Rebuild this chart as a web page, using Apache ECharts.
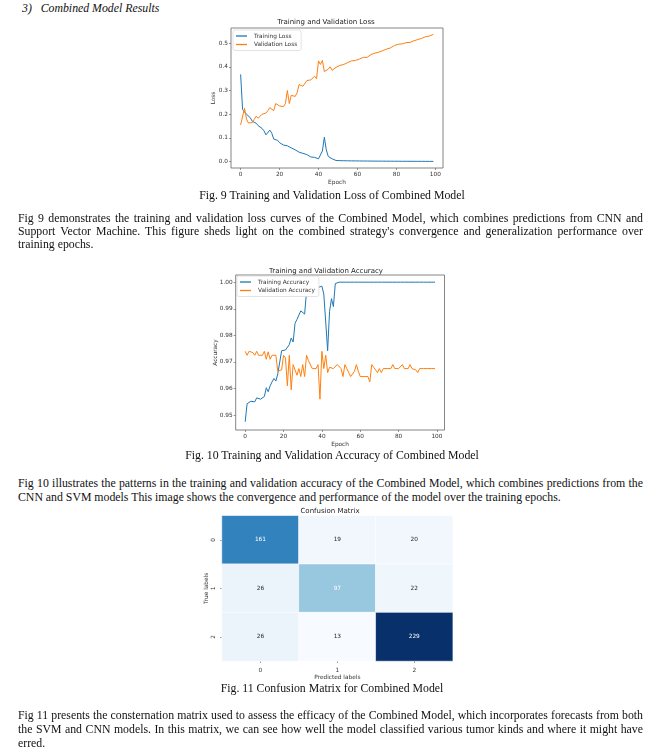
<!DOCTYPE html>
<html>
<head>
<meta charset="utf-8">
<script src="https://cdn.jsdelivr.net/npm/echarts@6/dist/echarts.min.js"></script>
<style>
html,body{margin:0;padding:0;background:#fff;}
body{width:664px;height:756px;position:relative;overflow:hidden;font-family:"Liberation Serif","DejaVu Serif",serif;color:#111;}
.ln{position:absolute;left:18px;width:625px;font-size:11.8px;line-height:13px;height:13px;white-space:normal;overflow:hidden;}
.j{text-align:justify;text-align-last:justify;}
.cap{position:absolute;left:0;width:664px;text-align:center;font-size:11.8px;line-height:13px;}
.chart{position:absolute;}
</style>
</head>
<body>
<div class="ln" style="top:2px;font-style:italic;left:22px;">3)&nbsp;&nbsp;&nbsp;Combined Model Results</div>

<div id="loss" class="chart" style="left:195px;top:15px;width:262px;height:175px;"></div>
<div class="cap" style="top:189px;">Fig. 9 Training and Validation Loss of Combined Model</div>
<div class="ln j" style="top:212px;">Fig 9 demonstrates the training and validation loss curves of the Combined Model, which combines predictions from CNN and</div>
<div class="ln j" style="top:225px;">Support Vector Machine. This figure sheds light on the combined strategy's convergence and generalization performance over</div>
<div class="ln" style="top:238px;">training epochs.</div>

<div id="acc" class="chart" style="left:195px;top:262px;width:262px;height:190px;"></div>
<div class="cap" style="top:449px;">Fig. 10 Training and Validation Accuracy of Combined Model</div>
<div class="ln j" style="top:477px;">Fig 10 illustrates the patterns in the training and validation accuracy of the Combined Model, which combines predictions from the</div>
<div class="ln" style="top:491px;">CNN and SVM models This image shows the convergence and performance of the model over the training epochs.</div>

<div id="cm" class="chart" style="left:195px;top:505px;width:270px;height:180px;"></div>
<div class="cap" style="top:682px;">Fig. 11 Confusion Matrix for Combined Model</div>
<div class="ln j" style="top:709px;">Fig 11 presents the consternation matrix used to assess the efficacy of the Combined Model, which incorporates forecasts from both</div>
<div class="ln j" style="top:723px;">the SVM and CNN models. In this matrix, we can see how well the model classified various tumor kinds and where it might have</div>
<div class="ln" style="top:737px;">erred.</div>

<script>
// ---------- data ----------
var trainLoss = [0.368,0.22,0.215,0.200,0.195,0.185,0.170,0.168,0.162,0.152,
  0.148,0.140,0.130,0.113,0.118,0.133,0.120,0.095,0.092,0.090,
  0.080,0.072,0.070,0.068,0.067,0.065,0.058,0.066,0.050,0.042,
  0.040,0.038,0.035,0.036,0.030,0.025,0.020,0.018,0.018,0.015,
  0.012,0.010,0.045,0.103,0.050,0.022,0.028,0.012,0.007,0.005,
  0.0045,0.0042,0.004,0.0038,0.0036,0.0035,0.0034,0.0033,0.0032,0.0031,
  0.003,0.0029,0.0028,0.0027,0.0026,0.0026,0.0025,0.0024,0.0024,0.0023,
  0.0022,0.0022,0.0021,0.0021,0.002,0.002,0.0019,0.0019,0.0018,0.0018,
  0.0017,0.0017,0.0016,0.0016,0.0016,0.0015,0.0015,0.0015,0.0014,0.0014,
  0.0014,0.0013,0.0013,0.0013,0.0012,0.0012,0.0012,0.0011,0.0011,0.0011];
var valLoss = [0.155,0.158,0.225,0.180,0.163,0.158,0.165,0.178,0.192,0.183,
  0.185,0.200,0.198,0.205,0.215,0.228,0.235,0.215,0.245,0.238,
  0.235,0.240,0.232,0.245,0.300,0.245,0.280,0.285,0.275,0.290,
  0.325,0.320,0.318,0.315,0.342,0.338,0.345,0.348,0.360,0.350,
  0.425,0.410,0.427,0.380,0.383,0.390,0.400,0.385,0.392,0.398,
  0.405,0.406,0.408,0.410,0.412,0.418,0.422,0.425,0.423,0.427,
  0.430,0.433,0.436,0.440,0.443,0.440,0.445,0.452,0.455,0.458,
  0.460,0.462,0.465,0.468,0.466,0.475,0.470,0.480,0.486,0.490,
  0.492,0.495,0.500,0.497,0.490,0.502,0.505,0.503,0.507,0.510,
  0.513,0.515,0.518,0.520,0.525,0.527,0.525,0.530,0.535,0.537];
var trainAcc = [0.9475,0.9543,0.9548,0.9552,0.9553,0.9550,0.9565,0.9558,0.9560,0.9565,
  0.9570,0.9603,0.9588,0.9610,0.9625,0.9638,0.9628,0.9655,0.9660,0.9742,
  0.9745,0.9745,0.9742,0.9765,0.9790,0.9775,0.9845,0.9860,0.9863,0.9892,
  0.9885,0.9880,0.9965,0.9968,0.9970,0.9975,0.9985,0.9972,0.9980,0.9985,
  0.9985,0.9955,0.9850,0.9742,0.9890,0.9938,0.9908,0.9995,1.0,1.0,
  1.0,1.0,1.0,1.0,1.0,1.0,1.0,1.0,1.0,1.0,
  1.0,1.0,1.0,1.0,1.0,1.0,1.0,1.0,1.0,1.0,
  1.0,1.0,1.0,1.0,1.0,1.0,1.0,1.0,1.0,1.0,
  1.0,1.0,1.0,1.0,1.0,1.0,1.0,1.0,1.0,1.0,
  1.0,1.0,1.0,1.0,1.0,1.0,1.0,1.0,1.0,1.0];
var valAcc = [0.9740,0.9725,0.9740,0.9740,0.9735,0.9725,0.9740,0.9725,0.9725,0.9725,
  0.9740,0.9710,0.9738,0.9710,0.9725,0.9725,0.9725,0.9665,0.9660,0.9670,
  0.9725,0.9715,0.9610,0.9725,0.9595,0.9690,0.9670,0.9650,0.9675,0.9645,
  0.9690,0.9645,0.9725,0.9705,0.9710,0.9675,0.9675,0.9675,0.9690,0.9560,
  0.9740,0.9675,0.9725,0.9660,0.9680,0.9675,0.9675,0.9670,0.9690,0.9690,
  0.9675,0.9645,0.9690,0.9675,0.9680,0.9645,0.9645,0.9665,0.9690,0.9665,
  0.9645,0.9645,0.9645,0.9645,0.9645,0.9625,0.9690,0.9680,0.9670,0.9660,
  0.9675,0.9660,0.9675,0.9675,0.9675,0.9675,0.9675,0.9690,0.9675,0.9675,
  0.9675,0.9675,0.9690,0.9675,0.9675,0.9675,0.9690,0.9675,0.9675,0.9670,
  0.9660,0.9675,0.9675,0.9675,0.9675,0.9675,0.9675,0.9675,0.9675,0.9675];
var epochTicks = [0,20,40,60,80,100];
var lossTicks = [0.0,0.1,0.2,0.3,0.4,0.5];
var accTicks = [0.95,0.96,0.97,0.98,0.99,1.00];
var cmLabels = ['0','1','2'];
var cmRows = [[161,19,20],[26,97,22],[26,13,229]];

// ---------- helpers ----------
var FONT = 'DejaVu Sans';
var BLUE = '#1f77b4', ORANGE = '#ff7f0e';
var FS = 5.8;
function pairs(arr){ return arr.map(function(v,i){ return [i,v]; }); }
function lineSeries(name, arr, color){
  return {name:name, type:'line', data:pairs(arr), symbol:'none', showSymbol:false,
    lineStyle:{color:color, width:1}, itemStyle:{color:color}, animation:false};
}
function valueAxis(name, gap, min, max, ticks, digits){
  return {
    type:'value', min:min, max:max, name:name, nameGap:gap, nameLocation:'middle', nameMoveOverlap:false,
    nameTextStyle:{fontSize:FS, color:'#333', fontFamily:FONT},
    splitLine:{show:false}, axisLine:{show:false, onZero:false},
    axisTick:{show:true, length:2, lineStyle:{color:'#555', width:0.6}, customValues:ticks},
    axisLabel:{fontSize:FS, color:'#333', fontFamily:FONT, margin:3, customValues:ticks,
      formatter:function(v){ return digits === 0 ? String(Math.round(v)) : v.toFixed(digits); }}
  };
}
function legendCfg(left, top){
  return {show:true, orient:'vertical', left:left, top:top, icon:'rect', itemWidth:11, itemHeight:1.3, itemGap:2.5,
    padding:[3,4,3,3], borderColor:'#d0d0d0', borderWidth:0.6, borderRadius:2, backgroundColor:'#fff',
    textStyle:{fontSize:FS, color:'#333', fontFamily:FONT, padding:[0,0,0,2]}};
}
function titleCfg(text, top){
  return {text:text, left:'center', top:top, padding:0, textStyle:{fontSize:7, fontWeight:'normal', color:'#222', fontFamily:FONT}};
}

// ---------- loss chart ----------
var lossChart = echarts.init(document.getElementById('loss'), null, {renderer:'canvas'});
lossChart.setOption({
  animation:false,
  title: titleCfg('Training and Validation Loss', 4),
  legend: legendCfg(38, 15),
  grid:{left:36, top:13, width:212, height:144, show:true, borderColor:'#666', borderWidth:0.8, backgroundColor:'transparent'},
  xAxis: valueAxis('Epoch', 11, -4.95, 103.95, epochTicks, 0),
  yAxis: valueAxis('Loss', 15, -0.0268, 0.5638, lossTicks, 1),
  series:[lineSeries('Training Loss', trainLoss, BLUE), lineSeries('Validation Loss', valLoss, ORANGE)]
});

// ---------- accuracy chart ----------
var accChart = echarts.init(document.getElementById('acc'), null, {renderer:'canvas'});
accChart.setOption({
  animation:false,
  title: titleCfg('Training and Validation Accuracy', 5.5),
  legend: legendCfg(42, 14),
  grid:{left:40.7, top:13, width:208.8, height:156.3, show:true, borderColor:'#666', borderWidth:0.8, backgroundColor:'transparent'},
  xAxis: valueAxis('Epoch', 11, -4.95, 103.95, epochTicks, 0),
  yAxis: valueAxis('Accuracy', 17, 0.9444, 1.0027, accTicks, 2),
  series:[lineSeries('Training Accuracy', trainAcc, BLUE), lineSeries('Validation Accuracy', valAcc, ORANGE)]
});

// ---------- confusion matrix ----------
var cmData = [];
cmRows.forEach(function(row, r){
  row.forEach(function(v, c){
    cmData.push({value:[c, r, v], label:{color: v > 90 ? '#ffffff' : '#262626'}});
  });
});
function catAxis(name, gap, extraLabel){
  var lab = {fontSize:FS, color:'#333', fontFamily:FONT, margin:6};
  for (var k in extraLabel){ lab[k] = extraLabel[k]; }
  return {type:'category', data:cmLabels, name:name, nameLocation:'middle', nameGap:gap, nameMoveOverlap:false,
    nameTextStyle:{fontSize:FS, color:'#333', fontFamily:FONT},
    axisLine:{show:false}, splitLine:{show:false}, splitArea:{show:false},
    axisTick:{show:true, alignWithLabel:true, length:2, lineStyle:{color:'#555', width:0.6}},
    axisLabel:lab};
}
var cmChart = echarts.init(document.getElementById('cm'), null, {renderer:'canvas'});
var cmY = catAxis('True labels', 13, {rotate:90, margin:6});
cmY.inverse = true;
cmChart.setOption({
  animation:false,
  title: titleCfg('Confusion Matrix', 3),
  grid:{left:26.7, top:10.7, width:231, height:148.3},
  xAxis: catAxis('Predicted labels', 13, {margin:6}),
  yAxis: cmY,
  visualMap:{show:false, type:'continuous', min:13, max:229, dimension:2,
    inRange:{color:['#f7fbff','#deebf7','#c6dbef','#9ecae1','#6baed6','#4292c6','#2171b5','#08519c','#08306b']}},
  series:[{type:'heatmap', data:cmData,
    label:{show:true, fontSize:FS, fontFamily:FONT, formatter:function(p){return String(p.value[2]);}},
    itemStyle:{borderColor:'#ffffff', borderWidth:0.6},
    emphasis:{disabled:true}}]
});
</script>
</body>
</html>
